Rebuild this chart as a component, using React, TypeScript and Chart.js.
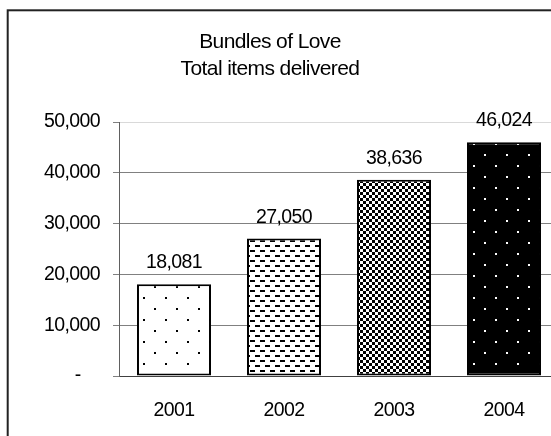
import React, { useEffect, useRef } from "react";
import { Chart, registerables } from "chart.js";

Chart.register(...registerables);

const categories = ["2001", "2002", "2003", "2004"];
const itemsDelivered = [18081, 27050, 38636, 46024];
const yTickValues = [0, 10000, 20000, 30000, 40000, 50000];
const titleLines = ["Bundles of Love", "Total items delivered"];
const patternKinds = ["sparseDots", "dashes", "checker", "inverseDots"];

const FONT = "'Liberation Sans', Arial, sans-serif";

function fmt(v: number): string {
  return v.toLocaleString("en-US");
}

function makePattern(kind: string): CanvasPattern | string {
  const c = document.createElement("canvas");
  let w = 22, h = 22;
  if (kind === "dashes") { w = 10; h = 10; }
  if (kind === "checker") { w = 6; h = 6; }
  c.width = w; c.height = h;
  const g = c.getContext("2d");
  if (!g) return "#888";
  if (kind === "sparseDots") {
    g.fillStyle = "#fff"; g.fillRect(0, 0, w, h);
    g.fillStyle = "#000";
    g.fillRect(0, 0, 2, 2);
    g.fillRect(11, 11, 2, 2);
  } else if (kind === "dashes") {
    g.fillStyle = "#fff"; g.fillRect(0, 0, w, h);
    g.fillStyle = "#000";
    g.fillRect(0, 0, 5, 2);
    g.fillRect(5, 5, 5, 2);
  } else if (kind === "checker") {
    g.fillStyle = "#fff"; g.fillRect(0, 0, w, h);
    g.fillStyle = "#000";
    g.fillRect(0, 0, 3, 3);
    g.fillRect(3, 3, 3, 3);
  } else {
    g.fillStyle = "#000"; g.fillRect(0, 0, w, h);
    g.fillStyle = "#fff";
    g.fillRect(0, 0, 2, 2);
    g.fillRect(11, 11, 2, 2);
  }
  const p = g.createPattern(c, "repeat");
  return p || "#888";
}

const framePlugin = {
  id: "frame",
  beforeDraw(chart: any) {
    const ctx = chart.ctx;
    ctx.fillStyle = "#fff";
    ctx.fillRect(0, 0, chart.width, chart.height);
    ctx.strokeStyle = "#222";
    ctx.lineWidth = 2;
    ctx.strokeRect(7.7, 10.3, 1000, 1000);
    ctx.letterSpacing = "-0.6px";
    ctx.fillStyle = "#000";
    ctx.font = `21px ${FONT}`;
    ctx.textAlign = "center";
    ctx.textBaseline = "alphabetic";
    ctx.fillText(titleLines[0], 270, 48);
    ctx.fillText(titleLines[1], 270, 75);
  },
};

const valueLabelPlugin = {
  id: "valueLabels",
  afterDatasetsDraw(chart: any) {
    const ctx = chart.ctx;
    const meta = chart.getDatasetMeta(0);
    ctx.save();
    ctx.fillStyle = "#000";
    ctx.font = `19.5px ${FONT}`;
    ctx.textAlign = "center";
    ctx.textBaseline = "alphabetic";
    meta.data.forEach((el: any, i: number) => {
      ctx.fillText(fmt(itemsDelivered[i]), el.x, el.y - 16);
    });
    ctx.restore();
  },
};

export default function App() {
  const ref = useRef<HTMLCanvasElement | null>(null);

  useEffect(() => {
    if (!ref.current) return;
    const patterns = patternKinds.map((k) => makePattern(k));
    const chart = new Chart(ref.current, {
      type: "bar",
      data: {
        labels: categories,
        datasets: [
          {
            label: "Total items delivered",
            data: itemsDelivered,
            backgroundColor: patterns as any,
            borderColor: "#000",
            borderWidth: 2,
            borderSkipped: false,
            barPercentage: 0.673,
            categoryPercentage: 1,
          },
        ],
      },
      options: {
        responsive: false,
        animation: false,
        layout: { padding: { left: 0, right: 0, top: 122, bottom: 0 } },
        plugins: {
          legend: { display: false },
          title: { display: false },
          tooltip: { enabled: false },
        },
        scales: {
          x: {
            grid: { display: false, drawTicks: false },
            border: { display: true, color: "#404040", width: 1 },
            ticks: {
              color: "#000",
              font: { family: FONT, size: 19.5 },
              padding: 23,
            },
            afterFit: (s: any) => { s.height = 60; },
          },
          y: {
            min: 0,
            max: 50000,
            afterBuildTicks: (s: any) => {
              s.ticks = yTickValues.map((v) => ({ value: v }));
            },
            grid: {
              color: (c: any) => (c.tick && c.tick.value === 50000 ? "#d9d9d9" : "#808080"),
              tickColor: "#808080",
              tickLength: 6,
              drawTicks: true,
            },
            border: { display: true, color: "#606060", width: 1 },
            ticks: {
              color: "#000",
              font: { family: FONT, size: 19.5 },
              padding: 13,
              callback: (v: any) => (Number(v) === 0 ? "-    " : fmt(Number(v))),
            },
            afterFit: (s: any) => { s.width = 119; },
          },
        },
      },
      plugins: [framePlugin, valueLabelPlugin],
    });
    return () => chart.destroy();
  }, []);

  return (
    <div style={{ position: "fixed", left: 0, top: 0, width: 551, height: 436, overflow: "hidden", background: "#fff" }}>
      <canvas ref={ref} width={559} height={436} style={{ display: "block" }} />
    </div>
  );
}
